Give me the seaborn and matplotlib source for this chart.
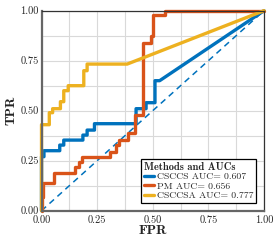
import numpy as np
import pandas as pd
import seaborn as sns
import matplotlib.pyplot as plt
from matplotlib.ticker import MultipleLocator
from matplotlib.font_manager import FontProperties

# ROC vertices
fpr_csccs = [0, 0, 0.011, 0.011, 0.082, 0.082, 0.10, 0.10, 0.186, 0.186, 0.205,
             0.205, 0.238, 0.238, 0.425, 0.425, 0.47, 0.47, 0.51, 0.51, 0.531, 1.0]
tpr_csccs = [0, 0.27, 0.27, 0.30, 0.30, 0.328, 0.328, 0.353, 0.353, 0.378, 0.378,
             0.403, 0.403, 0.435, 0.435, 0.51, 0.51, 0.54, 0.54, 0.65, 0.65, 1.0]

fpr_pm = [0, 0, 0.007, 0.007, 0.056, 0.056, 0.149, 0.149, 0.167, 0.167, 0.183,
          0.183, 0.306, 0.306, 0.336, 0.336, 0.35, 0.35, 0.388, 0.388, 0.419,
          0.419, 0.456, 0.456, 0.49, 0.49, 0.50, 0.50, 0.554, 0.554, 1.0]
tpr_pm = [0, 0.07, 0.07, 0.14, 0.14, 0.187, 0.187, 0.22, 0.22, 0.245, 0.245,
          0.27, 0.27, 0.295, 0.295, 0.328, 0.328, 0.353, 0.353, 0.39, 0.39,
          0.48, 0.48, 0.84, 0.84, 0.873, 0.873, 0.978, 0.978, 1.0, 1.0]

fpr_csccsa = [0, 0, 0.035, 0.035, 0.05, 0.05, 0.085, 0.085, 0.10, 0.10, 0.12,
              0.12, 0.19, 0.19, 0.205, 0.205, 0.385, 1.0]
tpr_csccsa = [0, 0.43, 0.43, 0.49, 0.49, 0.51, 0.51, 0.545, 0.545, 0.60, 0.60,
              0.625, 0.625, 0.70, 0.70, 0.733, 0.733, 1.0]

methods = ["CSCCS", "PM", "CSCCSA"]
aucs = [0.607, 0.656, 0.777]
colors = ["#0072BD", "#D95319", "#EDB120"]

chance = [0, 1]

# long-form table for seaborn
frames = []
for name, auc, fpr, tpr in zip(methods, aucs,
                               [fpr_csccs, fpr_pm, fpr_csccsa],
                               [tpr_csccs, tpr_pm, tpr_csccsa]):
    frames.append(pd.DataFrame({"FPR": fpr, "TPR": tpr,
                                "method": "{} AUC= {:.3f}".format(name, auc)}))
roc_df = pd.concat(frames, ignore_index=True)
labels = list(roc_df["method"].unique())

sns.set_style("whitegrid")
plt.rcParams["axes.unicode_minus"] = False

rm = FontProperties(family="cmr10", size=7.5)
bf = FontProperties(family="cmb10", size=10)

fig = plt.figure(figsize=(2.74, 2.41), dpi=100)
ax = fig.add_axes([0.1515, 0.1257, 0.812, 0.83])

sns.lineplot(x=chance, y=chance, ax=ax, color=colors[0], lw=1.1,
             linestyle=(0, (4, 3)), legend=False)
sns.lineplot(data=roc_df, x="FPR", y="TPR", hue="method", hue_order=labels,
             palette=colors, sort=False, estimator=None, lw=2.4, ax=ax)
for line in ax.lines:
    line.set_clip_on(False)

ax.set_xlim(0, 1)
ax.set_ylim(0, 1)
ax.xaxis.set_major_locator(MultipleLocator(0.25))
ax.yaxis.set_major_locator(MultipleLocator(0.25))
ax.xaxis.set_minor_locator(MultipleLocator(0.125))
ax.yaxis.set_minor_locator(MultipleLocator(0.125))
ax.xaxis.set_major_formatter("{x:.2f}")
ax.yaxis.set_major_formatter("{x:.2f}")
ax.grid(which="both", color="#d9d9d9", lw=0.8)
ax.tick_params(which="both", length=0, pad=2)
ax.tick_params(axis="x", pad=3.5)
for lab in ax.get_xticklabels() + ax.get_yticklabels():
    lab.set_fontproperties(rm)

ax.set_xlabel("FPR", fontproperties=bf, labelpad=0)
ax.set_ylabel("TPR", fontproperties=bf, labelpad=2)

for side in ["left", "bottom"]:
    ax.spines[side].set_color("#666666")
    ax.spines[side].set_linewidth(1.6)
for side in ["top", "right"]:
    ax.spines[side].set_color("#333333")
    ax.spines[side].set_linewidth(0.9)

leg = ax.legend(title="Methods and AUCs", loc="lower right", alignment="left",
                frameon=True, fancybox=False, framealpha=1, edgecolor="black",
                prop=FontProperties(family="cmr10", size=7),
                title_fontproperties=FontProperties(family="cmb10", size=7.5),
                handlelength=1.0, handletextpad=0.3, borderpad=0.3,
                labelspacing=0.05, borderaxespad=0.8)
leg.get_frame().set_linewidth(0.9)

fig.savefig("out.png", dpi=100)
